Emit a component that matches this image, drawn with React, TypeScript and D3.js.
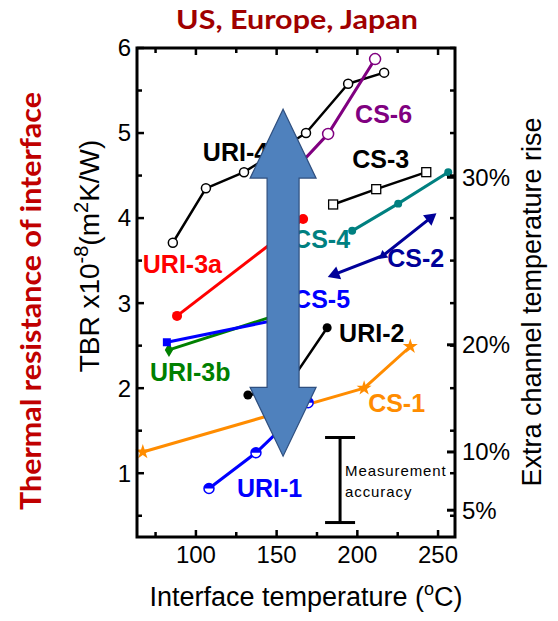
import React from 'react';
import * as d3 from 'd3';

const W = 558;
const H = 621;

// interface temperature (°C), TBR (x1e-8 m2K/W)
const uri4 = [[85.7, 3.71], [106.2, 4.35], [129.8, 4.54], [168.2, 5.0], [194.3, 5.58], [216.6, 5.71]];
const cs6 = [[150.5, 4.35], [181.9, 4.99], [211, 5.87]];
const cs3 = [[185, 4.16], [211.7, 4.34], [242.7, 4.54]];
const cs4 = [[196.8, 3.85], [225.3, 4.17], [256.3, 4.54]];
const cs2 = [[186.2, 3.34], [216, 3.56], [245.2, 4.0]];
const uri3a = [[88.3, 2.85], [166.4, 3.99]];
const cs5 = [[82, 2.54], [152, 2.81]];
const uri3b = [[83.3, 2.45], [152, 2.87]];
const uri2 = [[132.2, 1.92], [155.2, 1.98], [181.3, 2.71]];
const cs1 = [[67.1, 1.25], [204.2, 2.0], [232.8, 2.49]];
const uri1 = [[108.1, 0.82], [137.2, 1.24], [169.5, 1.83]];

// where each name sits (temperature, TBR of the text baseline start)
const labelAnchors = {
  'URI-4': [104.3, 4.67],
  'CS-6': [198.6, 5.12],
  'CS-3': [196.8, 4.59],
  'CS-4': [160.2, 3.65],
  'CS-2': [218.5, 3.42],
  'URI-3a': [67.1, 3.35],
  'CS-5': [160.2, 2.94],
  'URI-2': [188.7, 2.54],
  'URI-3b': [71.5, 2.09],
  'CS-1': [206.7, 1.72],
  'URI-1': [125.4, 0.72],
};

const xMajor = [100, 150, 200, 250];
const xMinor = [75, 125, 175, 225];
const yMajor = [1, 2, 3, 4, 5, 6];
const yMinor = [0.5, 1.5, 2.5, 3.5, 4.5, 5.5];
// right axis: extra channel temperature rise, placed at the equivalent TBR
const pctLabels = ['30%', '20%', '10%', '5%'];
const pctAt = [4.48, 2.51, 1.25, 0.565];

// measurement accuracy bar (temperature, low, high)
const accuracy = [189.3, 0.42, 1.42];
// big double arrow (temperature, tip top, head base top, head base bottom, tip bottom)
const bigArrow = [154, 5.28, 4.47, 2.01, 1.2];

const series = [
  {name: 'URI-4', data: uri4, color: '#000000', marker: 'openCircle', width: 2.5},
  {name: 'CS-6', data: cs6, color: '#800080', marker: 'openCircleBig', width: 3},
  {name: 'CS-3', data: cs3, color: '#000000', marker: 'openSquare', width: 2.5},
  {name: 'CS-4', data: cs4, color: '#008080', marker: 'dot', width: 3},
  {name: 'CS-2', data: cs2, color: '#000099', marker: 'triangle', width: 3},
  {name: 'URI-3a', data: uri3a, color: '#ff0000', marker: 'circle', width: 3},
  {name: 'URI-3b', data: uri3b, color: '#008000', marker: 'diamond', width: 3},
  {name: 'CS-5', data: cs5, color: '#0000ff', marker: 'square', width: 3},
  {name: 'URI-2', data: uri2, color: '#000000', marker: 'circleSmall', width: 2.5},
  {name: 'CS-1', data: cs1, color: '#ff8c00', marker: 'star', width: 3},
  {name: 'URI-1', data: uri1, color: '#0000ff', marker: 'half', width: 3},
];

const x = d3.scaleLinear().domain([63.5, 260.5]).range([137, 455]);
const y = d3.scaleLinear().domain([0.25, 6]).range([537, 48]);

const font = '"Liberation Sans", Arial, sans-serif';
const calib = 'Lato, "Open Sans", sans-serif';

const line = d3.line<number[]>().x(d => x(d[0])).y(d => y(d[1]));

const Marker = ({s, i}: any) => {
  const [t, v] = s.data[i];
  const px = x(t);
  const py = y(v);
  const c = s.color;
  const sym = (type: any, size: number) => d3.symbol().type(type).size(size)() as string;
  switch (s.marker) {
    case 'openCircle':
      return <circle cx={px} cy={py} r={4.5} fill="#fff" stroke={c} strokeWidth={1.5} />;
    case 'openCircleBig':
      return <circle cx={px} cy={py} r={5.5} fill="#fff" stroke={c} strokeWidth={1.5} />;
    case 'openSquare':
      return <rect x={px - 4.5} y={py - 4.5} width={9} height={9} fill="#fff" stroke={c} strokeWidth={1.3} />;
    case 'dot':
      return <path d={sym(d3.symbolCircle, 50)} transform={`translate(${px},${py})`} fill={c} />;
    case 'circle':
      return <circle cx={px} cy={py} r={5} fill={c} />;
    case 'circleSmall':
      return <circle cx={px} cy={py} r={4.5} fill={c} />;
    case 'square':
      return <rect x={px - 4} y={py - 4} width={8} height={8} fill={c} />;
    case 'diamond':
      return <path d={sym(d3.symbolDiamond, 60)} transform={`translate(${px},${py})`} fill={c} />;
    case 'star':
      return <path d={sym(d3.symbolStar, 70)} transform={`translate(${px},${py})`} fill={c} />;
    case 'triangle': {
      // points away from the neighbour it is drawn against
      const n = s.data.length;
      const a = s.data[i];
      const b = i < n - 1 ? s.data[i + 1] : s.data[i - 1];
      const dx = x(a[0]) - x(b[0]);
      const dy = y(a[1]) - y(b[1]);
      const ang = (Math.atan2(dy, dx) * 180) / Math.PI + 90;
      return <path d={sym(d3.symbolTriangle, i === 1 ? 40 : 80)} transform={`translate(${px},${py}) rotate(${ang})`} fill={c} />;
    }
    case 'half':
      return (
        <g>
          <circle cx={px} cy={py} r={5} fill="#fff" stroke={c} strokeWidth={1.5} />
          <path d={`M${px - 5},${py} A5,5 0 0 1 ${px + 5},${py} Z`} fill={c} />
        </g>
      );
    default:
      return null;
  }
};

export default function App() {
  const cx = x(bigArrow[0]);
  const [tTop, hTop, hBot, tBot] = bigArrow.slice(1).map(v => y(v));
  const sw = 16;
  const hw = 33;
  const arrowPath = `M${cx},${tTop} L${cx + hw},${hTop} L${cx + sw},${hTop} L${cx + sw},${hBot} L${cx + hw},${hBot} L${cx},${tBot} L${cx - hw},${hBot} L${cx - sw},${hBot} L${cx - sw},${hTop} L${cx - hw},${hTop} Z`;

  const ax = x(accuracy[0]);

  return (
    <svg width={W} height={H} style={{position: 'absolute', left: 0, top: 0, background: '#fff'}}>
      {/* title */}
      <text x={297} y={29} textAnchor="middle" fontFamily={calib} fontWeight="bold" fontSize={26} fill="#a00000" textLength={242} lengthAdjust="spacingAndGlyphs">
        US, Europe, Japan
      </text>

      {/* red side label */}
      <text transform="translate(41,301) rotate(-90)" textAnchor="middle" fontFamily={calib} fontWeight="bold" fontSize={29} fill="#c00000" textLength={418} lengthAdjust="spacingAndGlyphs">
        Thermal resistance of interface
      </text>

      {/* y axis title */}
      <text transform="translate(99,256) rotate(-90)" textAnchor="middle" fontFamily={font} fontSize={28} fill="#000">
        TBR x10
        <tspan fontSize={20} dy={-11}>-8</tspan>
        <tspan dy={11}>(m</tspan>
        <tspan fontSize={20} dy={-11}>2</tspan>
        <tspan dy={11}>K/W)</tspan>
      </text>

      {/* right axis title */}
      <text transform="translate(541,302) rotate(-90)" textAnchor="middle" fontFamily={font} fontSize={27} fill="#000">
        Extra channel temperature rise
      </text>

      {/* x axis title */}
      <text x={306} y={606} textAnchor="middle" fontFamily={font} fontSize={27} fill="#000">
        Interface temperature (<tspan fontSize={18} dy={-11}>o</tspan>
        <tspan dy={11}>C)</tspan>
      </text>

      {/* series lines */}
      {series.map(s => (
        <path key={s.name} d={line(s.data as any) as string} fill="none" stroke={s.color} strokeWidth={s.width} strokeLinejoin="round" />
      ))}
      {series.map(s => s.data.map((_, i) => <Marker key={s.name + i} s={s} i={i} />))}

      {/* series names */}
      {series.map(s => {
        const [t, v] = (labelAnchors as any)[s.name];
        return (
          <text key={'l' + s.name} x={x(t)} y={y(v)} fontFamily={font} fontWeight="bold" fontSize={25} fill={s.color}>
            {s.name}
          </text>
        );
      })}

      {/* measurement accuracy */}
      <g stroke="#000" strokeWidth={3}>
        <line x1={ax} x2={ax} y1={y(accuracy[1])} y2={y(accuracy[2])} />
        <line x1={ax - 15} x2={ax + 15} y1={y(accuracy[1])} y2={y(accuracy[1])} />
        <line x1={ax - 15} x2={ax + 15} y1={y(accuracy[2])} y2={y(accuracy[2])} />
      </g>
      <text x={ax + 5} y={476} fontFamily={font} fontSize={15} letterSpacing={0.9} fill="#000">Measurement</text>
      <text x={ax + 5} y={497} fontFamily={font} fontSize={15} letterSpacing={0.9} fill="#000">accuracy</text>

      {/* big arrow */}
      <path d={arrowPath} fill="#4f81bd" stroke="#2f4f7f" strokeWidth={1.2} strokeLinejoin="miter" />

      {/* frame + ticks */}
      <g stroke="#000">
        {xMajor.map(t => (
          <g key={'xm' + t} strokeWidth={2.5}>
            <line x1={x(t)} x2={x(t)} y1={537} y2={530} />
            <line x1={x(t)} x2={x(t)} y1={48} y2={55} />
          </g>
        ))}
        {xMinor.map(t => (
          <g key={'xn' + t} strokeWidth={2.5}>
            <line x1={x(t)} x2={x(t)} y1={537} y2={532} />
            <line x1={x(t)} x2={x(t)} y1={48} y2={53} />
          </g>
        ))}
        {yMajor.map(v => (
          <g key={'ym' + v} strokeWidth={2.5}>
            <line x1={137} x2={144} y1={y(v)} y2={y(v)} />
            <line x1={455} x2={450} y1={y(v)} y2={y(v)} />
          </g>
        ))}
        {yMinor.map(v => (
          <g key={'yn' + v} strokeWidth={2.5}>
            <line x1={137} x2={142} y1={y(v)} y2={y(v)} />
            <line x1={455} x2={450} y1={y(v)} y2={y(v)} />
          </g>
        ))}
        {pctAt.map((v, i) => (
          <line key={'p' + i} x1={455} x2={447} y1={y(v)} y2={y(v)} strokeWidth={3} />
        ))}
        <rect x={137} y={48} width={318} height={489} fill="none" strokeWidth={3} />
      </g>

      {/* tick labels */}
      {yMajor.map(v => (
        <text key={'yl' + v} x={131} y={y(v)} dy="0.35em" textAnchor="end" fontFamily={font} fontSize={24} fill="#000">
          {v}
        </text>
      ))}
      {xMajor.map(t => (
        <text key={'xl' + t} x={x(t)} y={563} textAnchor="middle" fontFamily={font} fontSize={24} fill="#000">
          {t}
        </text>
      ))}
      {pctAt.map((v, i) => (
        <text key={'pl' + i} x={462} y={y(v)} dy="0.35em" fontFamily={font} fontSize={24} fill="#000">
          {pctLabels[i]}
        </text>
      ))}
    </svg>
  );
}
